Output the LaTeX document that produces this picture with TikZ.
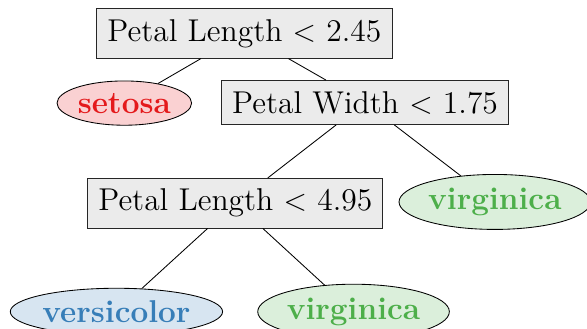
\documentclass[tikz,border=0pt]{standalone}
\usepackage{xcolor,amsmath}
\usepackage{tikz}
\usetikzlibrary{shapes.geometric,positioning}

\definecolor{setosared}{HTML}{E41A1C}
\definecolor{versiblue}{HTML}{377EB8}
\definecolor{virgigreen}{HTML}{4DAF4A}

\begin{document}
\begin{tikzpicture}[x=1cm,y=1cm,
  splitbox/.style={draw=black!85,fill=black!8,inner sep=5pt,font=\fontsize{14.8pt}{18pt}\selectfont},
  leafnode/.style={ellipse,draw=black,inner xsep=0.5pt,inner ysep=2.6pt,font=\fontsize{14.8pt}{18pt}\selectfont\bfseries}]

  \useasboundingbox (0,0) rectangle (9.68,-5.425);

  % Splits
  \node[splitbox] (root) at (4.03,-0.55) {Petal Length $<$ 2.45};
  \node[splitbox] (width) at (6.02,-1.69) {Petal Width $<$ 1.75};
  \node[splitbox] (length) at (3.88,-3.35) {Petal Length $<$ 4.95};

  % Leaves
  \node[leafnode,fill=setosared!20,text=setosared] (setosa) at (2.05,-1.70) {setosa};
  \node[leafnode,fill=virgigreen!20,text=virgigreen] (virgA) at (8.16,-3.33) {virginica};
  \node[leafnode,fill=versiblue!20,text=versiblue] (versi) at (1.92,-5.14) {versicolor};
  \node[leafnode,fill=virgigreen!20,text=virgigreen] (virgB) at (5.83,-5.14) {virginica};

  % Branches
  \draw (root) -- (setosa);
  \draw (root) -- (width);
  \draw (width) -- (length);
  \draw (width) -- (virgA);
  \draw (length) -- (versi);
  \draw (length) -- (virgB);

\end{tikzpicture}
\end{document}
